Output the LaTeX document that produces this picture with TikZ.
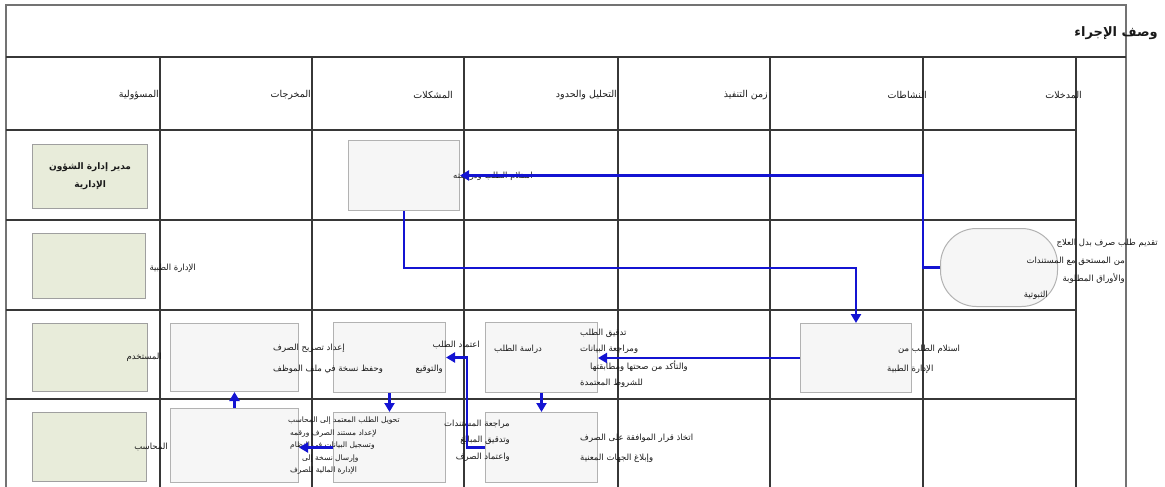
\documentclass[tikz,border=0pt]{standalone}
\usepackage{fontspec}
\setmainfont{DejaVu Sans}
\newfontfamily\arabicfont[Script=Arabic]{DejaVu Sans}
\TeXXeTstate=1
\usetikzlibrary{arrows.meta}
\newcommand\ar[1]{\hbox{\arabicfont\beginR #1\endR}}
\definecolor{flowblue}{RGB}{20,20,210}
\definecolor{boxgreen}{RGB}{232,236,218}
\definecolor{boxgray}{RGB}{246,246,246}
\definecolor{gridc}{RGB}{55,55,55}
\definecolor{framec}{RGB}{115,115,115}
\definecolor{txtc}{RGB}{25,25,25}
\begin{document}
\begin{tikzpicture}[x=1pt,y=-1pt,
  gridln/.style={draw=gridc,line width=1.2pt},
  frameln/.style={draw=framec,line width=2.2pt},
  greenbox/.style={draw=gray!75,fill=boxgreen,line width=1.2pt,inner sep=0pt,anchor=north west},
  graybox/.style={draw=gray!60,fill=boxgray,line width=1pt,inner sep=0pt,anchor=north west},
  termbox/.style={draw=gray!60,fill=boxgray,line width=1pt,rounded corners=36pt,inner sep=0pt,anchor=north west},
  flowarr/.style={draw=flowblue,line width=2.4pt,-{Triangle[length=9pt,width=10pt]}},
  lbl/.style={inner sep=0pt,text=txtc,font=\fontsize{8.5}{10}\selectfont},
  small/.style={inner sep=0pt,text=txtc,font=\fontsize{7.5}{9}\selectfont},
  hdr/.style={inner sep=0pt,text=txtc,font=\fontsize{9.5}{11}\selectfont,anchor=east},
]
\useasboundingbox (0,0) rectangle (1165,487);
% grid
\draw[frameln] (6,487) -- (6,5) -- (1126,5) -- (1126,487);
\draw[gridln] (6,57) -- (1126,57);
\foreach \yy in {130,220,310,399} \draw[gridln] (6,\yy) -- (1076,\yy);
\foreach \xx in {160,312,464,618,770,923,1076} \draw[gridln] (\xx,57) -- (\xx,487);
% title and headers
\node[inner sep=0pt,text=txtc,font=\fontsize{13}{15}\selectfont\bfseries,anchor=east] (title) at (1158,33) {\ar{وصف الإجراء}};
\node[hdr] (h1) at (159,95) {\ar{المسؤولية}};
\node[hdr] (h2) at (311,95) {\ar{المخرجات}};
\node[hdr] (h3) at (453,95) {\ar{المشكلات}};
\node[hdr] (h4) at (617,95) {\ar{التحليل والحدود}};
\node[hdr] (h5) at (768,95) {\ar{زمن التنفيذ}};
\node[hdr] (h6) at (927,95) {\ar{النشاطات}};
\node[hdr] (h7) at (1082,95) {\ar{المدخلات}};
% boxes
\node[greenbox,minimum width=115,minimum height=64,align=center,text=txtc,font=\fontsize{9}{18}\selectfont\bfseries] (g1) at (32,144) {\ar{مدير إدارة الشؤون}\\\ar{الإدارية}};
\node[greenbox,minimum width=113,minimum height=65] (g2) at (32,233) {};
\node[greenbox,minimum width=115,minimum height=68] (g3) at (32,323) {};
\node[greenbox,minimum width=114,minimum height=69] (g4) at (32,412) {};
\node[graybox,minimum width=128,minimum height=68] (c2r3) at (170,323) {};
\node[graybox,minimum width=128,minimum height=74] (c2r4) at (170,408) {};
\node[graybox,minimum width=111,minimum height=70] (c3r1) at (348,140) {};
\node[graybox,minimum width=112,minimum height=70] (c3r3) at (333,322) {};
\node[graybox,minimum width=112,minimum height=70] (c3r4) at (333,412) {};
\node[graybox,minimum width=112,minimum height=70] (c4r3) at (485,322) {};
\node[graybox,minimum width=112,minimum height=70] (c4r4) at (485,412) {};
\node[graybox,minimum width=111,minimum height=69] (c6r3) at (800,323) {};
\node[termbox,minimum width=117,minimum height=78] (term) at (940,228) {};
% texts
\node[lbl,anchor=east] (t12) at (196,268) {\ar{الإدارة الطبية}};
\node[lbl,anchor=east] (t13) at (162,357) {\ar{المستخدم}};
\node[lbl,anchor=east] (t14) at (168,447) {\ar{المحاسب}};
\node[lbl,anchor=west] (t31) at (453,176) {\ar{استلام الطلب ودراسته}};
\node[lbl,anchor=east] (j1) at (1158,243) {\ar{تقديم طلب صرف بدل العلاج}};
\node[lbl,anchor=east] (j2) at (1125,261) {\ar{من المستحق مع المستندات}};
\node[lbl,anchor=east] (j3) at (1125,278) {\ar{والأوراق المطلوبة}};
\node[lbl,anchor=east] (j4) at (1048,295) {\ar{الثبوتية}};
\node[lbl,anchor=west] (f1) at (898,349) {\ar{استلام الطلب من}};
\node[lbl,anchor=west] (f2) at (887,369) {\ar{الإدارة الطبية}};
\node[lbl,anchor=west] (g1t) at (580,333) {\ar{تدقيق الطلب}};
\node[lbl,anchor=west] (g2t) at (580,349) {\ar{ومراجعة البيانات}};
\node[lbl,anchor=west] (g3t) at (590,366) {\ar{والتأكد من صحتها ومطابقتها}};
\node[lbl,anchor=west] (g4t) at (580,383) {\ar{للشروط المعتمدة}};
\node[lbl,anchor=west] (ht) at (494,349) {\ar{دراسة الطلب}};
\node[lbl,anchor=west] (e1) at (580,438) {\ar{اتخاذ قرار الموافقة على الصرف}};
\node[lbl,anchor=west] (e2) at (580,458) {\ar{وإبلاغ الجهات المعنية}};
\node[lbl,anchor=west] (a1) at (273,348) {\ar{إعداد تصريح الصرف}};
\node[lbl,anchor=west] (a2) at (273,369) {\ar{وحفظ نسخة في ملف الموظف}};
\node[lbl,anchor=east] (b1) at (480,345) {\ar{اعتماد الطلب}};
\node[lbl,anchor=east] (b2) at (443,369) {\ar{والتوقيع}};
\node[small,anchor=west] (k1) at (288,421) {\ar{تحويل الطلب المعتمد إلى المحاسب}};
\node[small,anchor=west] (k2) at (290,434) {\ar{لإعداد مستند الصرف ورقمه}};
\node[small,anchor=west] (k3) at (290,446) {\ar{وتسجيل البيانات في النظام}};
\node[small,anchor=west] (k4) at (302,459) {\ar{وإرسال نسخة إلى}};
\node[small,anchor=west] (k5) at (290,471) {\ar{الإدارة المالية للصرف}};
\node[lbl,anchor=east] (d1) at (510,424) {\ar{مراجعة المستندات}};
\node[lbl,anchor=east] (d2) at (510,440) {\ar{وتدقيق المبالغ}};
\node[lbl,anchor=east] (d3) at (510,457) {\ar{واعتماد الصرف}};
% connectors
\draw[flowarr] (term.west) -- ++(-17,0) |- (c3r1.east);
\draw[flowarr] (c3r1.south) -- ++(0,57) -| (c6r3.north);
\draw[flowarr] (c6r3.west) -- (c6r3.west -| c4r3.east);
\draw[flowarr] (c4r3.south) -- (c4r4.north);
\draw[flowarr] (c4r4.west) -- ++(-18,0) |- (c3r3.east);
\draw[flowarr] (c3r3.south) -- (c3r4.north);
\draw[flowarr] (c3r4.west) -- (c3r4.west -| c2r4.east);
\draw[flowarr] (c2r4.north) -- (c2r3.south);
\end{tikzpicture}
\end{document}
